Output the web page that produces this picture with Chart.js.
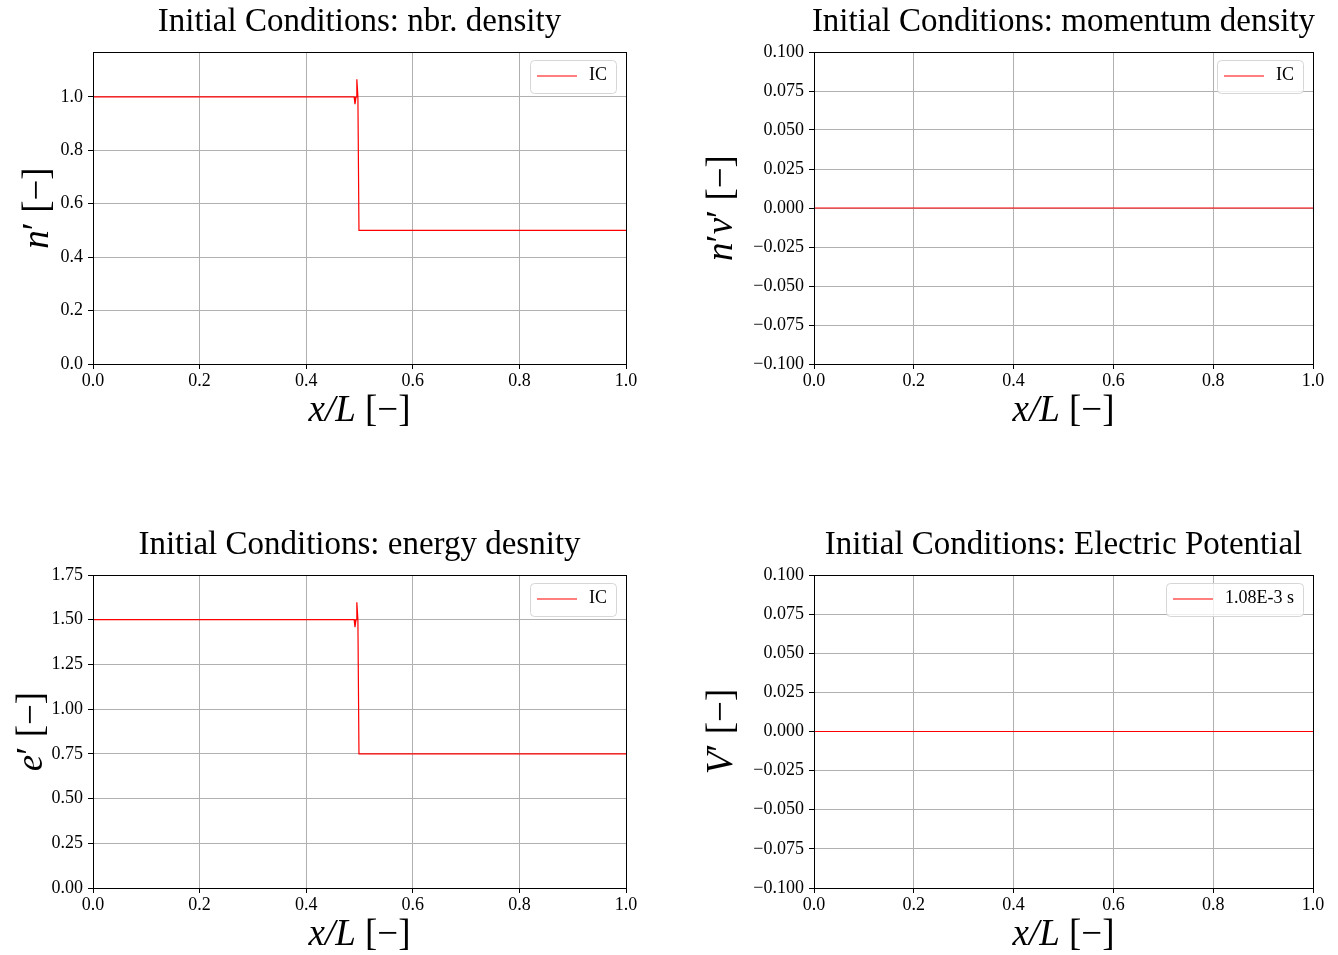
<!DOCTYPE html>
<html>
<head>
<meta charset="utf-8">
<script src="https://cdn.jsdelivr.net/npm/chart.js@4"></script>
<style>
  body { margin: 0; background: #fff; }
  #fig { position: relative; width: 1338px; height: 955px; }
  canvas { position: absolute; }
</style>
</head>
<body>
<div id="fig">
  <canvas id="cN" width="669" height="477" style="left:0;top:0"></canvas>
  <canvas id="cNV" width="669" height="477" style="left:669px;top:0"></canvas>
  <canvas id="cE" width="669" height="478" style="left:0;top:477px"></canvas>
  <canvas id="cV" width="669" height="478" style="left:669px;top:477px"></canvas>
</div>
<script>
// initial-condition profiles
const xIC  = [0.0, 0.4900, 0.4915, 0.4935, 0.4950, 0.4970, 0.4990, 1.0];
const nIC  = [1.0, 1.0, 0.973, 1.0, 1.066, 1.0, 0.5, 0.5];
const nvIC = [0, 0, 0, 0, 0, 0, 0, 0];
const eIC  = [1.5, 1.5, 1.458, 1.5, 1.597, 1.5, 0.75, 0.75];
const vIC  = [0, 0, 0, 0, 0, 0, 0, 0];

// tick values
const xTicks  = [0.0, 0.2, 0.4, 0.6, 0.8, 1.0];
const nTicks  = [0.0, 0.2, 0.4, 0.6, 0.8, 1.0];
const nvTicks = [-0.1, -0.075, -0.05, -0.025, 0, 0.025, 0.05, 0.075, 0.1];
const eTicks  = [0, 0.25, 0.5, 0.75, 1.0, 1.25, 1.5, 1.75];
const vTicks  = [-0.1, -0.075, -0.05, -0.025, 0, 0.025, 0.05, 0.075, 0.1];

const SERIF = '"Liberation Serif", "DejaVu Serif", serif';
const RED = 'rgb(255,0,0)';

function pts(xs, ys) {
    return xs.map((x, i) => ({ x: x, y: ys[i] }));
}

function fmt(v, d) {
    return v.toFixed(d).replace('-', '\u2212');
}

// draws a string made of italic / upright pieces, centred at (0,0)
function drawMixed(ctx, parts, size) {
    let total = 0;
    const widths = parts.map(p => {
        ctx.font = (p[1] ? 'italic ' : '') + size + 'px ' + SERIF;
        const w = ctx.measureText(p[0]).width;
        total += w;
        return w;
    });
    let x = -total / 2;
    ctx.textBaseline = 'middle';
    ctx.textAlign = 'left';
    parts.forEach((p, i) => {
        ctx.font = (p[1] ? 'italic ' : '') + size + 'px ' + SERIF;
        ctx.fillText(p[0], x, 0);
        x += widths[i];
    });
}

const decorPlugin = {
    id: 'decor',
    afterDraw(chart, args, o) {
        const ctx = chart.ctx;
        const a = chart.chartArea;
        ctx.save();
        // spines on all four sides
        ctx.strokeStyle = '#000';
        ctx.lineWidth = 1;
        ctx.strokeRect(Math.round(a.left) + 0.5, Math.round(a.top) + 0.5,
                       Math.round(a.right - a.left), Math.round(a.bottom - a.top));

        ctx.fillStyle = '#000';
        // title
        ctx.font = o.titleSize + 'px ' + SERIF;
        ctx.textAlign = 'center';
        ctx.textBaseline = 'alphabetic';
        ctx.fillText(o.title, (a.left + a.right) / 2, a.top - 21);

        // x label
        ctx.save();
        ctx.translate((a.left + a.right) / 2, a.bottom + 47);
        drawMixed(ctx, [['x/L', true], [' [\u2212]', false]], 37);
        ctx.restore();

        // y label
        ctx.save();
        ctx.translate(o.yLabelX, (a.top + a.bottom) / 2);
        ctx.rotate(-Math.PI / 2);
        drawMixed(ctx, o.yLabel, 37);
        ctx.restore();

        // legend, top right inside the axes
        const ds = chart.data.datasets[0];
        ctx.font = '18px ' + SERIF;
        const tw = ctx.measureText(ds.label).width;
        const bw = 59 + tw + 9, bh = 33;
        const bx = a.right - 10 - bw, by = a.top + 8;
        ctx.beginPath();
        ctx.roundRect(bx + 0.5, by + 0.5, bw, bh, 4);
        ctx.fillStyle = 'rgba(255,255,255,0.8)';
        ctx.fill();
        ctx.strokeStyle = '#d6d6d6';
        ctx.lineWidth = 1;
        ctx.stroke();
        ctx.beginPath();
        ctx.moveTo(bx + 7, by + 16);
        ctx.lineTo(bx + 47, by + 16);
        ctx.strokeStyle = RED;
        ctx.lineWidth = 1.2;
        ctx.stroke();
        ctx.fillStyle = '#000';
        ctx.textAlign = 'left';
        ctx.textBaseline = 'middle';
        ctx.fillText(ds.label, bx + 59, by + 15);
        ctx.restore();
    }
};

function makeChart(id, cfg) {
    const cv = document.getElementById(id);
    const W = cv.width, H = cv.height;
    const area = cfg.area; // [left, top, right, bottom]
    return new Chart(cv, {
        type: 'line',
        data: {
            datasets: [{
                label: cfg.label,
                data: pts(xIC, cfg.values),
                borderColor: RED,
                borderWidth: 1.2,
                pointRadius: 0,
                tension: 0
            }]
        },
        options: {
            responsive: false,
            animation: false,
            layout: { padding: { left: 0, top: area[1], right: W - area[2], bottom: 0 } },
            plugins: {
                legend: { display: false },
                tooltip: { enabled: false },
                decor: {
                    title: cfg.title,
                    titleSize: 33,
                    yLabel: cfg.yLabel,
                    yLabelX: cfg.yLabelX
                }
            },
            scales: {
                x: {
                    type: 'linear',
                    min: 0,
                    max: 1,
                    afterFit: s => { s.height = H - area[3]; },
                    afterBuildTicks: s => { s.ticks = xTicks.map(v => ({ value: v })); },
                    grid: { color: '#b0b0b0', lineWidth: 1, tickColor: '#000', tickLength: 5 },
                    border: { color: '#000', width: 1 },
                    ticks: {
                        color: '#000',
                        padding: 1,
                        maxRotation: 0,
                        font: { family: SERIF, size: 18 },
                        callback: v => fmt(v, 1)
                    }
                },
                y: {
                    type: 'linear',
                    min: cfg.yMin,
                    max: cfg.yMax,
                    afterFit: s => { s.width = area[0]; },
                    afterBuildTicks: s => { s.ticks = cfg.ticks.map(v => ({ value: v })); },
                    grid: { color: '#b0b0b0', lineWidth: 1, tickColor: '#000', tickLength: 5 },
                    border: { color: '#000', width: 1 },
                    ticks: {
                        color: '#000',
                        padding: 5,
                        font: { family: SERIF, size: 18 },
                        callback: v => fmt(v, cfg.digits)
                    }
                }
            }
        },
        plugins: [decorPlugin]
    });
}

makeChart('cN', {
    label: 'IC', values: nIC, title: 'Initial Conditions: nbr. density',
    area: [93, 52, 626, 364], yMin: 0, yMax: 1.168, ticks: nTicks, digits: 1,
    yLabel: [['n', true], ['\u2032', false], [' [\u2212]', false]], yLabelX: 38
});
makeChart('cNV', {
    label: 'IC', values: nvIC, title: 'Initial Conditions: momentum density',
    area: [145, 52, 644, 364], yMin: -0.1, yMax: 0.1, ticks: nvTicks, digits: 3,
    yLabel: [['n', true], ['\u2032', false], ['v', true], ['\u2032', false], [' [\u2212]', false]], yLabelX: 53
});
makeChart('cE', {
    label: 'IC', values: eIC, title: 'Initial Conditions: energy desnity',
    area: [93, 98, 626, 411], yMin: 0, yMax: 1.75, ticks: eTicks, digits: 2,
    yLabel: [['e', true], ['\u2032', false], [' [\u2212]', false]], yLabelX: 32
});
makeChart('cV', {
    label: '1.08E-3 s', values: vIC, title: 'Initial Conditions: Electric Potential',
    area: [145, 98, 644, 411], yMin: -0.1, yMax: 0.1, ticks: vTicks, digits: 3,
    yLabel: [['V', true], ['\u2032', false], [' [\u2212]', false]], yLabelX: 53
});
</script>
</body>
</html>
